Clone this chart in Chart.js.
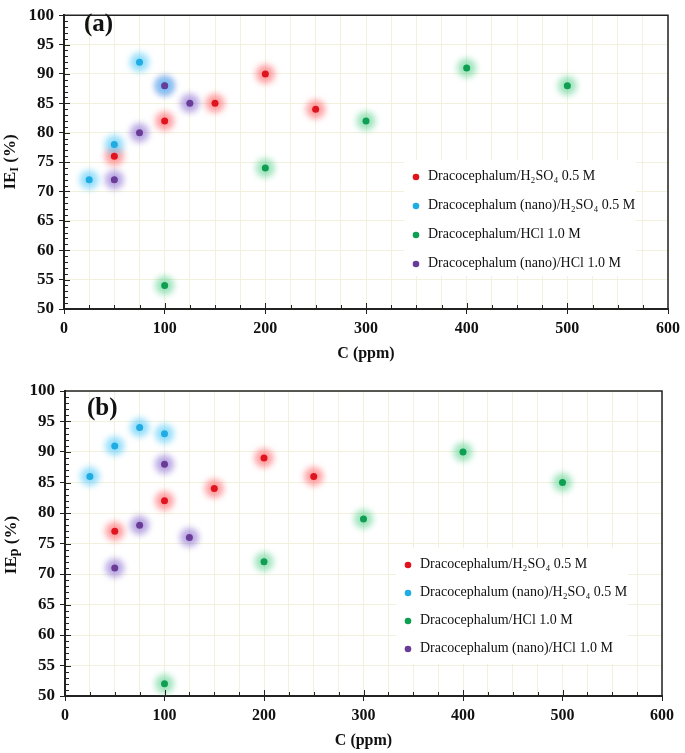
<!DOCTYPE html>
<html>
<head>
<meta charset="utf-8">
<title>Inhibition efficiency vs concentration</title>
<script src="https://cdn.jsdelivr.net/npm/chart.js@4.4.0/dist/chart.umd.min.js"></script>
<style>
  html, body { margin: 0; padding: 0; background: #fff; }
  canvas { display: block; }
</style>
</head>
<body>
<canvas id="chartA" width="685" height="372"></canvas>
<canvas id="chartB" width="685" height="381"></canvas>
<script>
// Inhibition efficiency of Dracocephalum extracts, two panels:
// (a) IE_I (%) and (b) IE_p (%) against concentration C (ppm)

const seriesLabels = [
    'Dracocephalum/H\u2082SO\u2084 0.5 M',
    'Dracocephalum (nano)/H\u2082SO\u2084 0.5 M',
    'Dracocephalum/HCl 1.0 M',
    'Dracocephalum (nano)/HCl 1.0 M'
];

// concentrations (ppm) per series
const concH2SO4 = [50, 100, 150, 200, 250];
const concNanoH2SO4 = [25, 50, 75, 100];
const concHCl = [100, 200, 300, 400, 500];
const concNanoHCl = [50, 75, 100, 125];

// panel (a): IE_I (%)
const ieI_H2SO4 = [76, 82, 85, 90, 84];
const ieI_nanoH2SO4 = [72, 78, 92, 88];
const ieI_HCl = [54, 74, 82, 91, 88];
const ieI_nanoHCl = [72, 80, 88, 85];

// panel (b): IE_p (%)
const ieP_H2SO4 = [77, 82, 84, 89, 86];
const ieP_nanoH2SO4 = [86, 91, 94, 93];
const ieP_HCl = [52, 72, 79, 90, 85];
const ieP_nanoHCl = [71, 78, 88, 76];

// tick labels
const xTickLabels = [0, 100, 200, 300, 400, 500, 600];
const yTickLabels = [50, 55, 60, 65, 70, 75, 80, 85, 90, 95, 100];

// styles
const SERIF = "'Liberation Serif', 'Times New Roman', serif";
const dotColors = ['#e0141e', '#1eace2', '#0f9f52', '#693c97'];
const haloColors = ['rgba(255,95,100,0.6)', 'rgba(90,205,250,0.65)', 'rgba(80,205,135,0.55)', 'rgba(140,110,210,0.6)'];
const dotOrder = [4, 2, 3, 1];      // purple on top, then cyan
const haloOrder = [13, 11, 14, 12];
const gridColor = '#f1f1dd';
const axisColor = '#222';

function toPoints(xs, ys) {
    return xs.map((x, i) => ({ x: x, y: ys[i] }));
}

// Blur the halo datasets so the dots glow
const haloBlur = {
    id: 'haloBlur',
    beforeDatasetDraw(chart, args) {
        if (!chart.data.datasets[args.index].isHalo) return;
        chart.ctx.save();
        chart.ctx.filter = 'blur(3px)';
    },
    afterDatasetDraw(chart, args) {
        if (!chart.data.datasets[args.index].isHalo) return;
        chart.ctx.restore();
    }
};

// Frame, inner minor ticks, legend box, panel tag and y title
const decorations = {
    id: 'decorations',
    afterDraw(chart, args, opts) {
        const { ctx, chartArea } = chart;
        const xs = chart.scales.x, ys = chart.scales.y;

        ctx.save();
        // top / right frame
        ctx.strokeStyle = axisColor;
        ctx.lineWidth = 1.5;
        ctx.beginPath();
        ctx.moveTo(chartArea.left, chartArea.top);
        ctx.lineTo(chartArea.right, chartArea.top);
        ctx.lineTo(chartArea.right, chartArea.bottom);
        ctx.stroke();

        // minor ticks pointing into the plot
        ctx.lineWidth = 1;
        ctx.beginPath();
        for (let v = 51; v < 100; v++) {
            const py = Math.round(ys.getPixelForValue(v)) + 0.5;
            const len = v % 5 === 0 ? 6 : 4;
            ctx.moveTo(chartArea.left, py);
            ctx.lineTo(chartArea.left + len, py);
        }
        for (let v = 25; v < 600; v += 25) {
            const px = Math.round(xs.getPixelForValue(v)) + 0.5;
            const len = v % 100 === 0 ? 6 : 4;
            ctx.moveTo(px, chartArea.bottom);
            ctx.lineTo(px, chartArea.bottom - len);
        }
        ctx.stroke();

        // legend
        const lg = opts.legend;
        ctx.fillStyle = '#fff';
        ctx.fillRect(lg.boxX, lg.boxY, lg.boxW, lg.boxH);
        ctx.font = '14px ' + SERIF;
        ctx.textBaseline = 'middle';
        seriesLabels.forEach((label, i) => {
            const y = lg.firstY + i * lg.rowGap;
            ctx.fillStyle = dotColors[i];
            ctx.beginPath();
            ctx.arc(lg.dotX, y + 1, 3.3, 0, Math.PI * 2);
            ctx.fill();
            ctx.fillStyle = '#111';
            ctx.fillText(label, lg.textX, y);
        });

        // panel tag
        ctx.fillStyle = '#111';
        ctx.font = 'bold 25px ' + SERIF;
        ctx.fillText(opts.tag.text, opts.tag.x, opts.tag.y);

        // y title with subscript
        const t = opts.yTitle;
        const big = 'bold 17px ' + SERIF, small = 'bold ' + t.subSize + 'px ' + SERIF;
        ctx.translate(t.x, t.y);
        ctx.rotate(-Math.PI / 2);
        ctx.font = big;
        const w1 = ctx.measureText(t.main).width, w3 = ctx.measureText(t.rest).width;
        ctx.font = small;
        const w2 = ctx.measureText(t.sub).width;
        let x = -(w1 + w2 + w3) / 2;
        ctx.font = big; ctx.fillText(t.main, x, 0); x += w1;
        ctx.font = small; ctx.fillText(t.sub, x, t.subShift); x += w2;
        ctx.font = big; ctx.fillText(t.rest, x, 0);
        ctx.restore();
    }
};

function makePanel(canvasId, values, lay) {
    const xsList = [concH2SO4, concNanoH2SO4, concHCl, concNanoHCl];
    const datasets = [];
    seriesLabels.forEach((label, i) => {
        datasets.push({
            label: label + ' halo',
            isHalo: true,
            data: toPoints(xsList[i], values[i]),
            pointRadius: 9.5,
            pointBackgroundColor: haloColors[i],
            pointBorderWidth: 0,
            showLine: false,
            order: haloOrder[i]
        });
        datasets.push({
            label: label,
            data: toPoints(xsList[i], values[i]),
            pointRadius: 3.5,
            pointBackgroundColor: dotColors[i],
            pointBorderWidth: 0,
            showLine: false,
            order: dotOrder[i]
        });
    });

    return new Chart(document.getElementById(canvasId), {
        type: 'scatter',
        data: { datasets: datasets },
        options: {
            responsive: false,
            animation: false,
            layout: { padding: lay.padding },
            plugins: {
                legend: { display: false },
                tooltip: { enabled: false },
                decorations: { legend: lay.legend, tag: lay.tag, yTitle: lay.yTitle }
            },
            scales: {
                x: {
                    type: 'linear',
                    min: 0,
                    max: 600,
                    afterFit: s => { s.height = lay.xHeight; },
                    ticks: {
                        stepSize: 25,
                        autoSkip: false,
                        maxRotation: 0,
                        padding: 5,
                        color: '#111',
                        font: { family: SERIF, size: 16, weight: 'bold' },
                        callback: v => xTickLabels.includes(v) ? v : ''
                    },
                    grid: {
                        color: gridColor,
                        tickLength: 5,
                        tickColor: c => (c.tick && xTickLabels.includes(c.tick.value)) ? axisColor : 'rgba(0,0,0,0)'
                    },
                    border: { color: axisColor, width: 2 },
                    title: {
                        display: true,
                        text: 'C (ppm)',
                        color: '#111',
                        font: { family: SERIF, size: 16, weight: 'bold' },
                        padding: { top: 0, bottom: lay.xTitlePad }
                    }
                },
                y: {
                    min: 50,
                    max: 100,
                    afterFit: s => { s.width = lay.yWidth; },
                    ticks: {
                        stepSize: 1,
                        autoSkip: false,
                        padding: 5,
                        color: '#111',
                        font: { family: SERIF, size: 17, weight: 'bold' },
                        callback: v => yTickLabels.includes(v) ? v : ''
                    },
                    grid: {
                        color: c => (c.tick && yTickLabels.includes(c.tick.value)) ? gridColor : 'rgba(0,0,0,0)',
                        tickLength: 5,
                        tickColor: c => (c.tick && yTickLabels.includes(c.tick.value)) ? axisColor : 'rgba(0,0,0,0)'
                    },
                    border: { color: axisColor, width: 2 }
                }
            }
        },
        plugins: [haloBlur, decorations]
    });
}

makePanel('chartA', [ieI_H2SO4, ieI_nanoH2SO4, ieI_HCl, ieI_nanoHCl], {
    padding: { top: 9, right: 15, bottom: 0, left: 0 },
    yWidth: 64,
    xHeight: 63,
    xTitlePad: 9,
    legend: { boxX: 404, boxY: 160, boxW: 232, boxH: 116, dotX: 416, textX: 428, firstY: 176, rowGap: 29 },
    tag: { text: '(a)', x: 84, y: 25 },
    yTitle: { main: 'IE', sub: 'I', rest: ' (%)', subSize: 12, subShift: 4, x: 11, y: 162 }
});

makePanel('chartB', [ieP_H2SO4, ieP_nanoH2SO4, ieP_HCl, ieP_nanoHCl], {
    padding: { top: 19, right: 23, bottom: 0, left: 0 },
    yWidth: 65,
    xHeight: 57,
    xTitlePad: 3,
    legend: { boxX: 396, boxY: 176, boxW: 232, boxH: 116, dotX: 408, textX: 420, firstY: 192, rowGap: 28 },
    tag: { text: '(b)', x: 87, y: 37 },
    yTitle: { main: 'IE', sub: 'p', rest: ' (%)', subSize: 14, subShift: 2, x: 12, y: 173 }
});
</script>
</body>
</html>
